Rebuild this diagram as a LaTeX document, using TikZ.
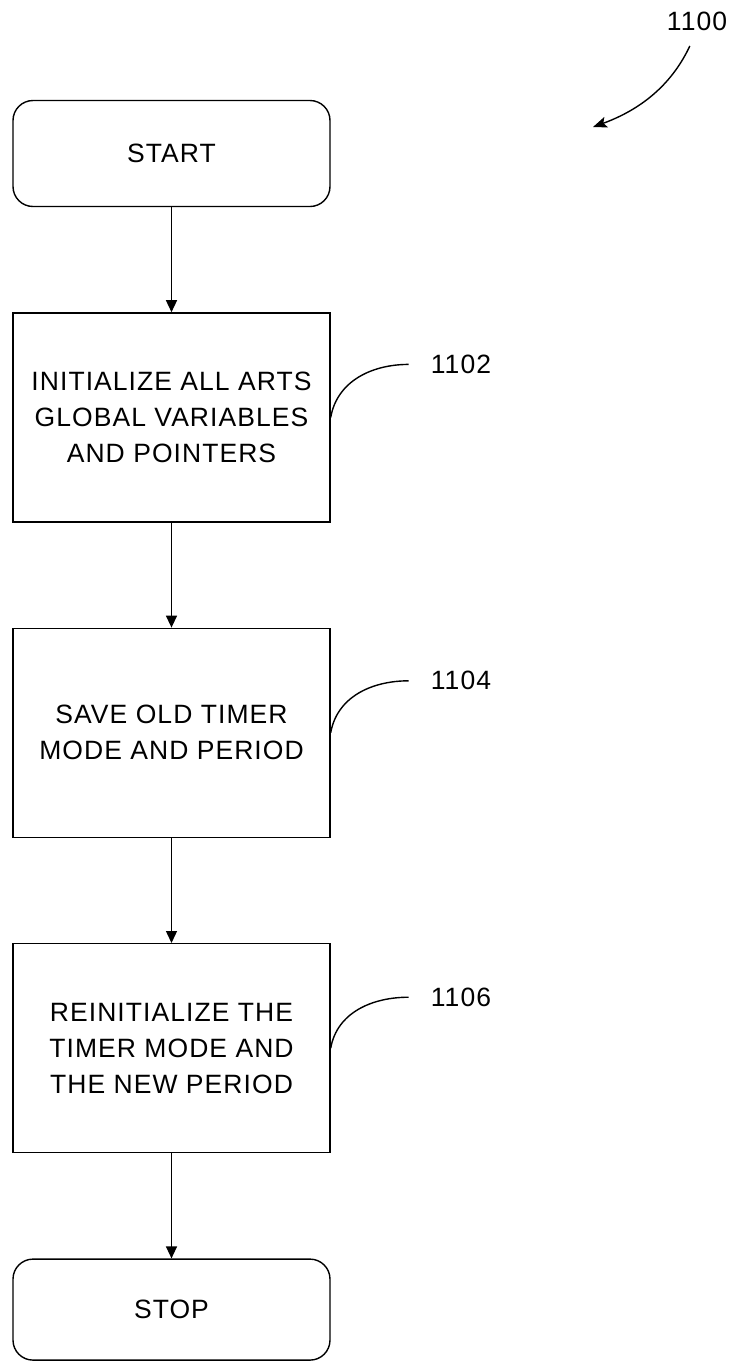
\documentclass[tikz,border=0pt]{standalone}
\usepackage{fontspec}
\setmainfont{Liberation Sans}[LetterSpace=4]
\usetikzlibrary{arrows.meta,positioning}
\newcommand{\flowsize}{\fontsize{26.5}{36}\selectfont}
\tikzset{
  term/.style  = {draw=black, line width=1.4pt, rounded corners=20pt, align=center,
                  minimum width=317pt, minimum height=106pt, font=\flowsize},
  proc/.style  = {draw=black, line width=1.4pt, align=center,
                  minimum width=317pt, minimum height=209pt, font=\flowsize},
  tag/.style   = {font=\flowsize, inner xsep=22pt, inner ysep=0pt},
  arr/.style   = {-{Triangle[length=12pt,width=11pt]}, draw=black, line width=1.4pt},
  lead/.style  = {draw=black, line width=1.4pt},
  refarr/.style = {-{Stealth[length=14pt,width=11pt,inset=3pt]}, draw=black, line width=1.4pt},
}

\begin{document}
\begin{tikzpicture}[x=1pt, y=1pt, node distance=105pt]
  \useasboundingbox (0,0) rectangle (732,-1361);
  \node[term] (start) at (171.5,-153.5) {START};
  \node[proc, below=of start] (init) {INITIALIZE ALL ARTS\\GLOBAL VARIABLES\\AND POINTERS};
  \node[proc, below=of init] (save) {SAVE OLD TIMER\\MODE AND PERIOD};
  \node[proc, below=of save] (reinit) {REINITIALIZE THE\\TIMER MODE AND\\THE NEW PERIOD};
  \node[term, minimum height=101pt, below=of reinit] (stop) {STOP};
  \foreach \a/\b in {start/init, init/save, save/reinit, reinit/stop}{\draw[arr] (\a) -- (\b);}
  % reference numerals
  \node[tag, anchor=west] (t1102) at ([xshift=78pt, yshift=53pt]init.east) {1102};
  \node[tag, anchor=west] (t1104) at ([xshift=78pt, yshift=52pt]save.east) {1104};
  \node[tag, anchor=west] (t1106) at ([xshift=78pt, yshift=51pt]reinit.east) {1106};
  \foreach \b/\t in {init/t1102, save/t1104, reinit/t1106}{\draw[lead] (\b.east) to[out=80, in=180] (\t.west);}
  \node[tag, inner xsep=0pt] (t1100) at (697,-21) {1100};
  \coordinate (p1100) at (593,-127);
  \draw[refarr, shorten <=17pt] (t1100.south) to[out=245, in=20] (p1100);
\end{tikzpicture}
\end{document}
